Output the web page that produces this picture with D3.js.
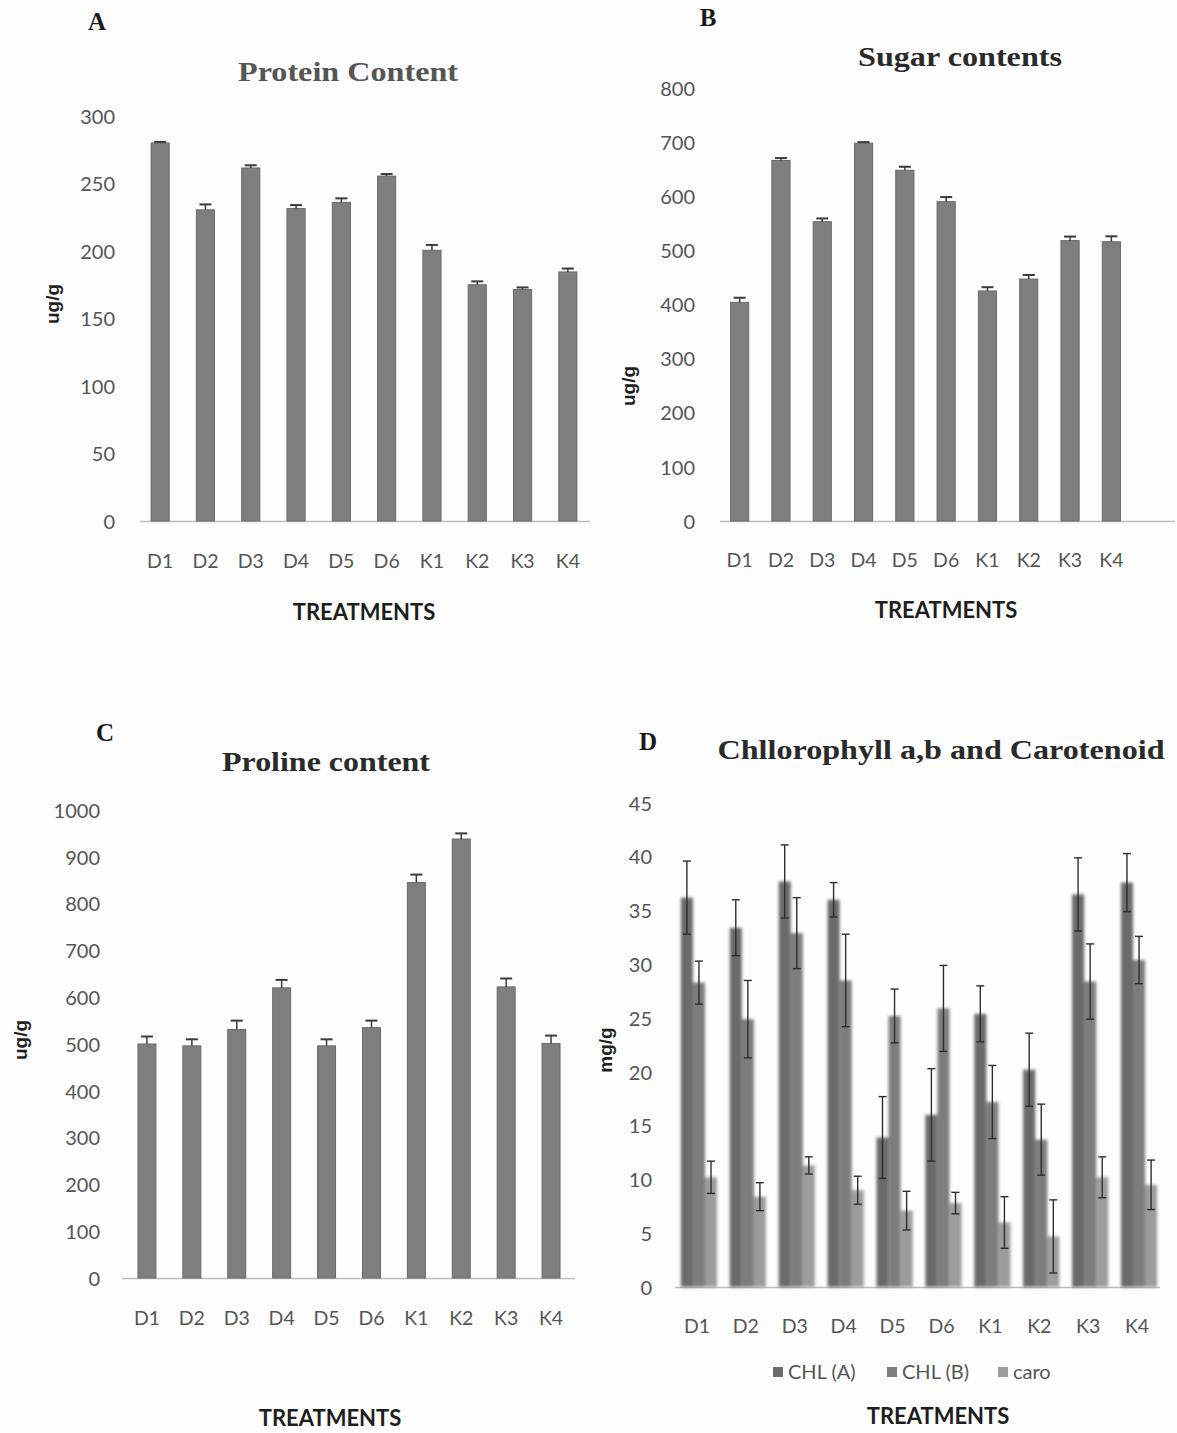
<!DOCTYPE html>
<html>
<head>
<meta charset="utf-8">
<script src="https://cdn.jsdelivr.net/npm/d3@7"></script>
<style>
  html, body { margin: 0; padding: 0; background: #fdfdfd; }
  svg { display: block; }
</style>
</head>
<body>
<svg id="chart" width="1177" height="1433"></svg>
<script>
// ---------------- DATA ----------------
const categories = ["D1", "D2", "D3", "D4", "D5", "D6", "K1", "K2", "K3", "K4"];

const proteinValues = [280, 230.5, 261.5, 231.5, 236, 255.5, 200.5, 175, 171.5, 184.5];
const proteinErrors = [0.8, 4, 2, 2.5, 3, 1.5, 4, 2.5, 1.5, 2.5];
const proteinTicks = [0, 50, 100, 150, 200, 250, 300];

const sugarValues = [404, 666, 553, 698, 648, 590, 425, 447, 518, 516];
const sugarErrors = [8.5, 4.5, 6, 2, 6.5, 8.5, 7, 7.5, 7.5, 10];
const sugarTicks = [0, 100, 200, 300, 400, 500, 600, 700, 800];

const prolineValues = [500, 496, 531, 620, 496, 535, 845, 938, 622, 501];
const prolineErrors = [16, 14, 19, 17, 14, 15, 17, 12, 18, 17];
const prolineTicks = [0, 100, 200, 300, 400, 500, 600, 700, 800, 900, 1000];

const pigmentSeries = ["CHL (A)", "CHL (B)", "caro"];
const chlAValues = [36.2, 33.4, 37.7, 36.0, 13.9, 16.0, 25.4, 20.2, 36.5, 37.6];
const chlAErrors = [3.4, 2.6, 3.4, 1.6, 3.8, 4.3, 2.6, 3.4, 3.4, 2.7];
const chlBValues = [28.3, 24.9, 32.9, 28.5, 25.2, 25.9, 17.2, 13.7, 28.4, 30.4];
const chlBErrors = [2.0, 3.6, 3.3, 4.3, 2.5, 4.0, 3.4, 3.3, 3.5, 2.2];
const caroValues = [10.2, 8.4, 11.3, 9.0, 7.1, 7.8, 6.0, 4.7, 10.2, 9.5];
const caroErrors = [1.5, 1.3, 0.8, 1.3, 1.8, 1.0, 2.4, 3.4, 1.9, 2.3];
const pigmentTicks = [0, 5, 10, 15, 20, 25, 30, 35, 40, 45];

// ---------------- STYLE ----------------
const TICK_FONT = "Lato, 'Open Sans', sans-serif";
const TITLE_FONT = "'Liberation Serif', 'Times New Roman', serif";
const tickColor = "#555";
const barColor = "#7e7e7e";
const barStroke = "#6a6a6a";
const pigmentColors = ["#6b6b6b", "#7d7d7d", "#9c9c9c"];

const svg = d3.select("#chart");
const defs = svg.append("defs");
defs.append("filter").attr("id", "soft")
  .attr("x", "-30%").attr("y", "-5%").attr("width", "160%").attr("height", "110%")
  .append("feGaussianBlur").attr("stdDeviation", 1.6);

function drawPanel(cfg) {
  const g = svg.append("g");
  const x = d3.scaleBand().domain(categories)
    .range([cfg.x0, cfg.x1]).paddingInner(cfg.pad).paddingOuter(cfg.pad / 2);
  const y = d3.scaleLinear().domain([0, cfg.max]).range([cfg.yBase, cfg.yTop]);

  // panel letter
  g.append("text").attr("x", cfg.letter[0]).attr("y", cfg.letter[1])
    .attr("text-anchor", "middle").attr("font-family", TITLE_FONT)
    .attr("font-weight", "bold").attr("font-size", 25).attr("fill", "#1a1a1a")
    .text(cfg.letterText);
  // title
  g.append("text").attr("x", cfg.title[0]).attr("y", cfg.title[1])
    .attr("text-anchor", "middle").attr("font-family", TITLE_FONT)
    .attr("font-weight", "bold").attr("font-size", cfg.titleSize || 28)
    .attr("fill", cfg.titleColor || "#2a2a2a")
    .attr("textLength", cfg.titleLen).attr("lengthAdjust", "spacingAndGlyphs")
    .text(cfg.titleText);

  // y axis (labels only)
  const ya = g.append("g").attr("transform", `translate(${cfg.yLabelX},0)`)
    .call(d3.axisLeft(y).tickValues(cfg.ticks).tickSize(0).tickPadding(0).tickFormat(d3.format("d")));
  ya.select(".domain").remove();
  ya.selectAll("text").attr("font-family", TICK_FONT).attr("font-size", 20)
    .attr("fill", tickColor).attr("dy", "0.36em");

  // baseline
  g.append("line").attr("x1", cfg.axisL).attr("x2", cfg.axisR)
    .attr("y1", cfg.yBase + 0.5).attr("y2", cfg.yBase + 0.5)
    .attr("stroke", "#bdbdbd").attr("stroke-width", 1.5);

  // x axis labels
  const xa = g.append("g").attr("transform", `translate(0,${cfg.xLabelY})`)
    .call(d3.axisBottom(x).tickSize(0).tickPadding(0));
  xa.select(".domain").remove();
  xa.selectAll("text").attr("font-family", TICK_FONT).attr("font-size", 19.5)
    .attr("fill", tickColor).attr("dy", "0.36em");

  // axis titles
  g.append("text").attr("x", cfg.treat[0]).attr("y", cfg.treat[1])
    .attr("text-anchor", "middle").attr("dy", "0.36em")
    .attr("font-family", TICK_FONT).attr("font-weight", "bold").attr("font-size", 22)
    .attr("fill", "#1e1e1e").text("TREATMENTS");
  g.append("text")
    .attr("transform", `translate(${cfg.unit[0]},${cfg.unit[1]}) rotate(-90)`)
    .attr("text-anchor", "middle").attr("dy", "0.36em")
    .attr("font-family", "'Liberation Sans', Arial, sans-serif").attr("font-weight", "bold")
    .attr("font-size", 19).attr("fill", "#1e1e1e").text(cfg.unitText);

  return { g, x, y };
}

function drawSimpleBars(cfg, values, errors) {
  const { g, x, y } = drawPanel(cfg);
  const rows = categories.map((c, i) => ({ c, v: values[i], e: errors[i] }));
  g.selectAll("rect.bar").data(rows).join("rect").attr("class", "bar")
    .attr("x", d => x(d.c)).attr("width", x.bandwidth())
    .attr("y", d => y(d.v)).attr("height", d => y(0) - y(d.v))
    .attr("fill", barColor).attr("stroke", barStroke).attr("stroke-width", 1);
  const eg = g.selectAll("g.err").data(rows).join("g").attr("class", "err");
  eg.append("line")
    .attr("x1", d => x(d.c) + x.bandwidth() / 2).attr("x2", d => x(d.c) + x.bandwidth() / 2)
    .attr("y1", d => y(d.v)).attr("y2", d => y(d.v + d.e))
    .attr("stroke", "#3a3a3a").attr("stroke-width", 1.5);
  eg.append("line")
    .attr("x1", d => x(d.c) + x.bandwidth() / 2 - 6).attr("x2", d => x(d.c) + x.bandwidth() / 2 + 6)
    .attr("y1", d => y(d.v + d.e)).attr("y2", d => y(d.v + d.e))
    .attr("stroke", "#3a3a3a").attr("stroke-width", 2);
}

// Panel A
drawSimpleBars({
  letterText: "A", letter: [97, 30], titleText: "Protein Content", title: [348, 81],
  titleLen: 220, titleColor: "#555",
  x0: 137.5, x1: 590.5, pad: 0.6, max: 300, yBase: 521, yTop: 116,
  ticks: proteinTicks, yLabelX: 115, axisL: 140, axisR: 590, xLabelY: 561,
  treat: [364, 612], unit: [52, 304], unitText: "ug/g"
}, proteinValues, proteinErrors);

// Panel B
drawSimpleBars({
  letterText: "B", letter: [708, 26], titleText: "Sugar contents", title: [960, 66],
  titleLen: 204,
  x0: 719, x1: 1132, pad: 0.56, max: 800, yBase: 521, yTop: 88,
  ticks: sugarTicks, yLabelX: 695, axisL: 720, axisR: 1175, xLabelY: 560,
  treat: [946, 610], unit: [628, 386], unitText: "ug/g"
}, sugarValues, sugarErrors);

// Panel C
drawSimpleBars({
  letterText: "C", letter: [105, 741], titleText: "Proline content", title: [326, 771],
  titleLen: 208,
  x0: 124.5, x1: 573.5, pad: 0.6, max: 1000, yBase: 1278, yTop: 810,
  ticks: prolineTicks, yLabelX: 100, axisL: 122, axisR: 575, xLabelY: 1318,
  treat: [330, 1418], unit: [20, 1040], unitText: "ug/g"
}, prolineValues, prolineErrors);

// Panel D (grouped)
(function () {
  const cfg = {
    letterText: "D", letter: [648, 750], titleText: "Chllorophyll a,b and Carotenoid", title: [941, 759],
    titleLen: 447,
    x0: 672.5, x1: 1161.5, pad: 0.26, max: 45, yBase: 1287, yTop: 803,
    ticks: pigmentTicks, yLabelX: 652, axisL: 675, axisR: 1160, xLabelY: 1326,
    treat: [938, 1416], unit: [605, 1050], unitText: "mg/g"
  };
  const { g, x, y } = drawPanel(cfg);
  const shift = 2;
  const x1 = d3.scaleBand().domain(pigmentSeries).range([0, x.bandwidth()]).padding(0);
  const seriesVals = [chlAValues, chlBValues, caroValues];
  const seriesErrs = [chlAErrors, chlBErrors, caroErrors];
  const color = d3.scaleOrdinal().domain(pigmentSeries).range(pigmentColors);
  const rows = [];
  categories.forEach((c, i) => pigmentSeries.forEach((s, j) =>
    rows.push({ c, s, v: seriesVals[j][i], e: seriesErrs[j][i] })));

  g.append("g").attr("filter", "url(#soft)")
    .selectAll("rect").data(rows).join("rect")
    .attr("x", d => x(d.c) + x1(d.s) + shift).attr("width", x1.bandwidth())
    .attr("y", d => y(d.v)).attr("height", d => y(0) - y(d.v))
    .attr("fill", d => color(d.s));

  const eg = g.append("g").selectAll("g").data(rows).join("g");
  const cx = d => x(d.c) + x1(d.s) + x1.bandwidth() / 2 + shift;
  eg.append("line").attr("x1", cx).attr("x2", cx)
    .attr("y1", d => y(d.v - d.e)).attr("y2", d => y(d.v + d.e))
    .attr("stroke", "#2e2e2e").attr("stroke-width", 1.4);
  [d => d.v - d.e, d => d.v + d.e].forEach(f => {
    eg.append("line").attr("x1", d => cx(d) - 4).attr("x2", d => cx(d) + 4)
      .attr("y1", d => y(f(d))).attr("y2", d => y(f(d)))
      .attr("stroke", "#2e2e2e").attr("stroke-width", 1.4);
  });

  // legend
  const legendX = [773, 887, 998];
  const lg = g.append("g").selectAll("g").data(pigmentSeries).join("g")
    .attr("transform", (d, i) => `translate(${legendX[i]},1372)`);
  lg.append("rect").attr("x", 0).attr("y", -5).attr("width", 10).attr("height", 10)
    .attr("fill", d => color(d));
  lg.append("text").attr("x", 15).attr("dy", "0.36em")
    .attr("font-family", TICK_FONT).attr("font-size", 20).attr("fill", tickColor)
    .text(d => d);
})();
</script>
</body>
</html>
